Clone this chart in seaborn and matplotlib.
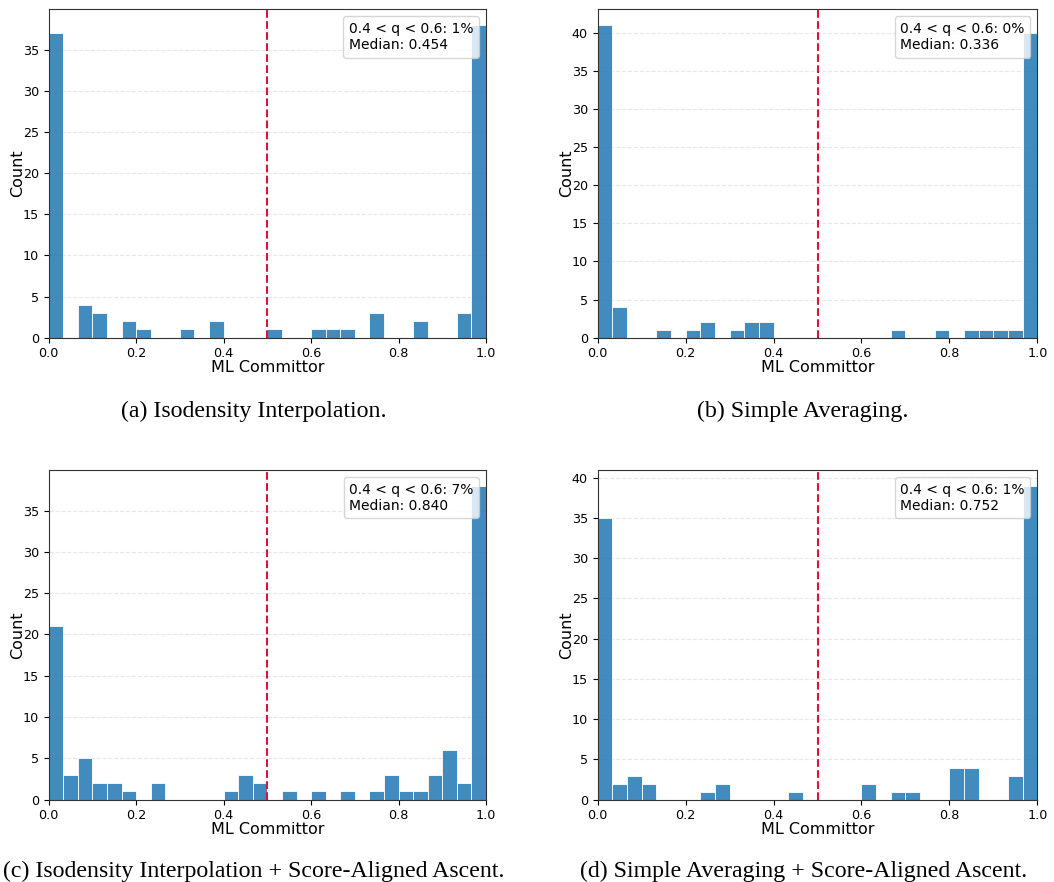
import numpy as np
import pandas as pd
import matplotlib
matplotlib.use("Agg")
import matplotlib.pyplot as plt
from matplotlib.lines import Line2D
import seaborn as sns

# Histogram counts of the ML committor over 30 equal bins on [0, 1]
counts_iso = [37, 0, 4, 3, 0, 2, 1, 0, 0, 1, 0, 2, 0, 0, 0,
              1, 0, 0, 1, 1, 1, 0, 3, 0, 0, 2, 0, 0, 3, 38]
counts_avg = [41, 4, 0, 0, 1, 0, 1, 2, 0, 1, 2, 2, 0, 0, 0,
              0, 0, 0, 0, 0, 1, 0, 0, 1, 0, 1, 1, 1, 1, 40]
counts_iso_ascent = [21, 3, 5, 2, 2, 1, 0, 2, 0, 0, 0, 0, 1, 3, 2,
                     0, 1, 0, 1, 0, 1, 0, 1, 3, 1, 1, 3, 6, 2, 38]
counts_avg_ascent = [35, 2, 3, 2, 0, 0, 0, 1, 2, 0, 0, 0, 0, 1, 0,
                     0, 0, 0, 2, 0, 1, 1, 0, 0, 4, 4, 0, 0, 3, 39]

transition_pct = [1, 0, 7, 1]
medians = [0.454, 0.336, 0.840, 0.752]

captions = [
    "(a) Isodensity Interpolation.",
    "(b) Simple Averaging.",
    "(c) Isodensity Interpolation + Score-Aligned Ascent.",
    "(d) Simple Averaging + Score-Aligned Ascent.",
]

all_counts = [counts_iso, counts_avg, counts_iso_ascent, counts_avg_ascent]
n_bins = 30
edges = np.linspace(0.0, 1.0, n_bins + 1)
centers = 0.5 * (edges[:-1] + edges[1:])

fig = plt.figure(figsize=(10.54, 8.82), dpi=100)

axes_rects = [
    [0.0462, 0.6171, 0.4149, 0.3724],
    [0.5671, 0.6171, 0.4171, 0.3724],
    [0.0462, 0.0933, 0.4149, 0.3738],
    [0.5671, 0.0933, 0.4171, 0.3738],
]
caption_pos = [(0.241, 0.5272), (0.762, 0.5272), (0.241, 0.0062), (0.762, 0.0062)]

bar_color = "#1f77b4"

for i, counts in enumerate(all_counts):
    ax = fig.add_axes(axes_rects[i])
    df = pd.DataFrame({"q": centers, "n": counts})
    sns.histplot(data=df, x="q", weights="n", bins=edges.tolist(), ax=ax,
                 color=bar_color, alpha=0.85, edgecolor="white", linewidth=0.6)
    ax.axvline(0.5, color="crimson", linestyle="--", linewidth=1.5)
    ax.set_xlim(0, 1)
    ax.set_axisbelow(True)
    ax.yaxis.grid(True, linestyle="--", alpha=0.3)
    ax.set_xlabel("ML Committor", fontsize=11.5, labelpad=0)
    ax.set_ylabel("Count", fontsize=11.5, labelpad=-1.4)
    ax.tick_params(labelsize=9.2)
    for s in ax.spines.values():
        s.set_color("#333333")

    label = f"0.4 < q < 0.6: {transition_pct[i]}%\nMedian: {medians[i]:.3f}"
    handle = Line2D([], [], linestyle="none", label=label)
    ax.legend(handles=[handle], loc="upper right", handlelength=0,
              handletextpad=0, fontsize=10.0, framealpha=0.8)

    fig.text(caption_pos[i][0], caption_pos[i][1], captions[i],
             ha="center", va="baseline", family="Liberation Serif", fontsize=17.2)

fig.savefig("out.png", dpi=100)
